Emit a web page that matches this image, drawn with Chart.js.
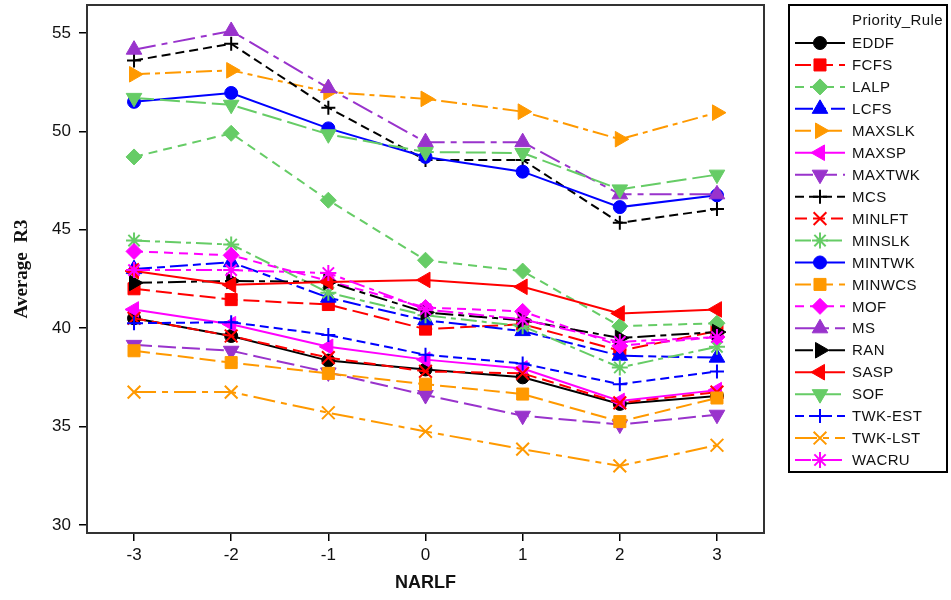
<!DOCTYPE html>
<html><head><meta charset="utf-8">
<script src="https://cdn.jsdelivr.net/npm/chart.js@4.4.0/dist/chart.umd.min.js"></script>
<style>html,body{margin:0;padding:0;background:#fff;}#wrap{width:951px;height:600px;position:relative;}</style>
</head><body><div id="wrap"><canvas id="c" width="951" height="600"></canvas></div>
<script>
// ---- data ----
const narlf = [-3, -2, -1, 0, 1, 2, 3];
const yTicks = [30, 35, 40, 45, 50, 55];
const rules = ['EDDF','FCFS','LALP','LCFS','MAXSLK','MAXSP','MAXTWK','MCS','MINLFT','MINSLK',
               'MINTWK','MINWCS','MOF','MS','RAN','SASP','SOF','TWK-EST','TWK-LST','WACRU'];
const EDDF    = [40.5, 39.6, 38.35, 37.9, 37.5, 36.15, 36.55];
const FCFS    = [42.0, 41.45, 41.2, 39.95, 40.2, 38.85, 39.85];
const LALP    = [48.7, 49.9, 46.5, 43.45, 42.9, 40.1, 40.25];
const LCFS    = [43.0, 43.35, 41.55, 40.4, 39.85, 38.6, 38.5];
const MAXSLK  = [52.9, 53.1, 52.0, 51.65, 51.0, 49.6, 50.95];
const MAXSP   = [40.95, 40.2, 39.05, 38.4, 37.95, 36.3, 36.85];
const MAXTWK  = [39.15, 38.85, 37.75, 36.6, 35.55, 35.1, 35.6];
const MCS     = [53.6, 54.45, 51.2, 48.55, 48.55, 45.35, 46.05];
const MINLFT  = [40.5, 39.6, 38.5, 37.8, 37.7, 36.2, 36.75];
const MINSLK  = [44.45, 44.25, 41.8, 40.65, 40.1, 38.0, 39.05];
const MINTWK  = [51.5, 51.95, 50.15, 48.7, 47.95, 46.15, 46.75];
const MINWCS  = [38.85, 38.25, 37.7, 37.15, 36.65, 35.25, 36.45];
const MOF     = [43.9, 43.7, 42.4, 41.05, 40.85, 39.1, 39.55];
const MS      = [54.15, 55.1, 52.2, 49.45, 49.45, 46.8, 46.8];
const RAN     = [42.3, 42.4, 42.35, 40.8, 40.4, 39.5, 39.8];
const SASP    = [42.9, 42.2, 42.35, 42.45, 42.1, 40.75, 40.95];
const SOF     = [51.7, 51.35, 49.85, 48.95, 48.9, 47.05, 47.8];
const TWK_EST = [40.25, 40.3, 39.65, 38.65, 38.2, 37.15, 37.8];
const TWK_LST = [36.75, 36.75, 35.7, 34.75, 33.85, 33.0, 34.05];
const WACRU   = [42.95, 42.95, 42.8, 40.95, 40.45, 39.3, 39.55];
const seriesValues = [EDDF,FCFS,LALP,LCFS,MAXSLK,MAXSP,MAXTWK,MCS,MINLFT,MINSLK,
                      MINTWK,MINWCS,MOF,MS,RAN,SASP,SOF,TWK_EST,TWK_LST,WACRU];

// ---- styles ----
const K='#000000', R='#ff0000', G='#66cc66', B='#0000ff', O='#ff9900', M='#ff00ff', P='#9933cc';
const styles = [
 {c:K, p:'circle',   rot:0,   r:6.5, dash:[]},
 {c:R, p:'rect',     rot:0,   r:8.5, dash:[16,6]},
 {c:G, p:'rectRot',  rot:0,   r:8,   dash:[9,6]},
 {c:B, p:'triangle', rot:0,   r:9,   dash:[18,5,8,5]},
 {c:O, p:'triangle', rot:90,  r:9,   dash:[16,5,5,5]},
 {c:M, p:'triangle', rot:-90, r:9,   dash:[]},
 {c:P, p:'triangle', rot:180, r:9,   dash:[18,6]},
 {c:K, p:'cross',    rot:0,   r:7,   dash:[9,5]},
 {c:R, p:'crossRot', rot:0,   r:9,   dash:[12,6]},
 {c:G, p:'star',     rot:0,   r:8,   dash:[16,5,5,5]},
 {c:B, p:'circle',   rot:0,   r:6.5, dash:[]},
 {c:O, p:'rect',     rot:0,   r:8.5, dash:[16,6]},
 {c:M, p:'rectRot',  rot:0,   r:8,   dash:[9,6]},
 {c:P, p:'triangle', rot:0,   r:9,   dash:[22,6,6,6]},
 {c:K, p:'triangle', rot:90,  r:9,   dash:[18,5,6,5]},
 {c:R, p:'triangle', rot:-90, r:9,   dash:[]},
 {c:G, p:'triangle', rot:180, r:9,   dash:[20,6]},
 {c:B, p:'cross',    rot:0,   r:7,   dash:[9,5]},
 {c:O, p:'crossRot', rot:0,   r:9,   dash:[22,6,6,6]},
 {c:M, p:'star',     rot:0,   r:8,   dash:[16,5,5,5]}
];
const N = rules.length;
const datasets = rules.map((name, i) => {
  const s = styles[i];
  const isLine = ['cross','crossRot','star'].includes(s.p);
  return {
    label: name,
    data: narlf.map((x, j) => ({x: x, y: seriesValues[i][j]})),
    borderColor: s.c, backgroundColor: s.c, borderWidth: 2, borderDash: s.dash,
    pointStyle: s.p, pointRotation: s.rot, pointRadius: s.r, pointHoverRadius: s.r,
    pointBackgroundColor: s.c, pointBorderColor: s.c, pointBorderWidth: isLine ? 2 : 1,
    tension: 0, fill: false, order: N - i, clip: false
  };
});

const framePlugin = {
  id: 'frame',
  afterDatasetsDraw(chart) {
    const {ctx, chartArea: a} = chart;
    ctx.save();
    ctx.strokeStyle = '#333'; ctx.lineWidth = 2; ctx.setLineDash([]);
    ctx.strokeRect(a.left, a.top, a.right - a.left, a.bottom - a.top);
    ctx.restore();
  }
};

const legendPlugin = {
  id: 'boxLegend',
  afterDraw(chart) {
    const ctx = chart.ctx;
    const bx = 789, by = 5, bw = 158, bh = 467;
    ctx.save();
    ctx.fillStyle = '#fff'; ctx.fillRect(bx, by, bw, bh);
    ctx.strokeStyle = '#000'; ctx.lineWidth = 2; ctx.setLineDash([]);
    ctx.strokeRect(bx, by, bw, bh);
    ctx.fillStyle = '#111';
    ctx.font = '15px "Liberation Sans", Arial, sans-serif';
    try { ctx.letterSpacing = '0.4px'; } catch(e) {}
    ctx.textBaseline = 'middle'; ctx.textAlign = 'left';
    ctx.fillText('Priority_Rule', 852, 21);
    const step = (460 - 43) / 19;
    chart.data.datasets.forEach((ds, i) => {
      const y = 43 + i * step;
      ctx.save();
      ctx.strokeStyle = ds.borderColor; ctx.lineWidth = 2;
      ctx.setLineDash(ds.borderDash || []);
      ctx.beginPath(); ctx.moveTo(795, y); ctx.lineTo(845, y); ctx.stroke();
      ctx.setLineDash([]);
      ctx.fillStyle = ds.pointBackgroundColor; ctx.strokeStyle = ds.pointBorderColor;
      ctx.lineWidth = ds.pointBorderWidth;
      Chart.helpers.drawPoint(ctx, {pointStyle: ds.pointStyle, rotation: ds.pointRotation,
        radius: ds.pointRadius, borderWidth: ds.pointBorderWidth}, 820, y);
      ctx.restore();
      ctx.fillStyle = '#111';
      ctx.fillText(ds.label, 852, y + 1);
    });
    ctx.restore();
  }
};

new Chart(document.getElementById('c'), {
  type: 'line',
  data: {datasets},
  plugins: [framePlugin, legendPlugin],
  options: {
    responsive: false, animation: false, devicePixelRatio: 1,
    layout: {autoPadding: false, padding: {top: 5, right: 187, bottom: 0, left: 0}},
    plugins: {legend: {display: false}, tooltip: {enabled: false}},
    scales: {
      x: {
        type: 'linear', min: -3.484, max: 3.484,
        afterBuildTicks: s => { s.ticks = narlf.map(v => ({value: v})); },
        afterFit: s => { s.height = 67; s.paddingLeft = 0; s.paddingRight = 0; },
        ticks: {font: {family: '"Liberation Sans Narrow", "Liberation Sans", Arial', size: 17}, color: '#111', padding: 4, autoSkip: false, maxRotation: 0},
        grid: {drawOnChartArea: false, drawTicks: true, tickLength: 8, color: '#000', lineWidth: 1.5},
        border: {display: true, color: '#000', width: 2},
        title: {display: true, text: 'NARLF', color: '#111',
          font: {family: '"Liberation Sans Narrow", "Liberation Sans", Arial', size: 18, weight: 'bold'},
          padding: {top: 0, bottom: 6}}
      },
      y: {
        type: 'linear', min: 29.59, max: 56.42,
        afterBuildTicks: s => { s.ticks = yTicks.map(v => ({value: v})); },
        afterFit: s => { s.width = 87; s.paddingTop = 0; s.paddingBottom = 0; },
        ticks: {font: {family: '"Liberation Sans", Arial', size: 17}, color: '#111', padding: 8},
        grid: {drawOnChartArea: false, drawTicks: true, tickLength: 8, color: '#000', lineWidth: 1.5},
        border: {display: true, color: '#000', width: 2},
        title: {display: true, text: 'Average  R3', color: '#111',
          font: {family: '"Liberation Serif", "Times New Roman", serif', size: 19, weight: 'bold'},
          padding: {top: 11, bottom: 0}}
      }
    }
  }
});
</script></body></html>
